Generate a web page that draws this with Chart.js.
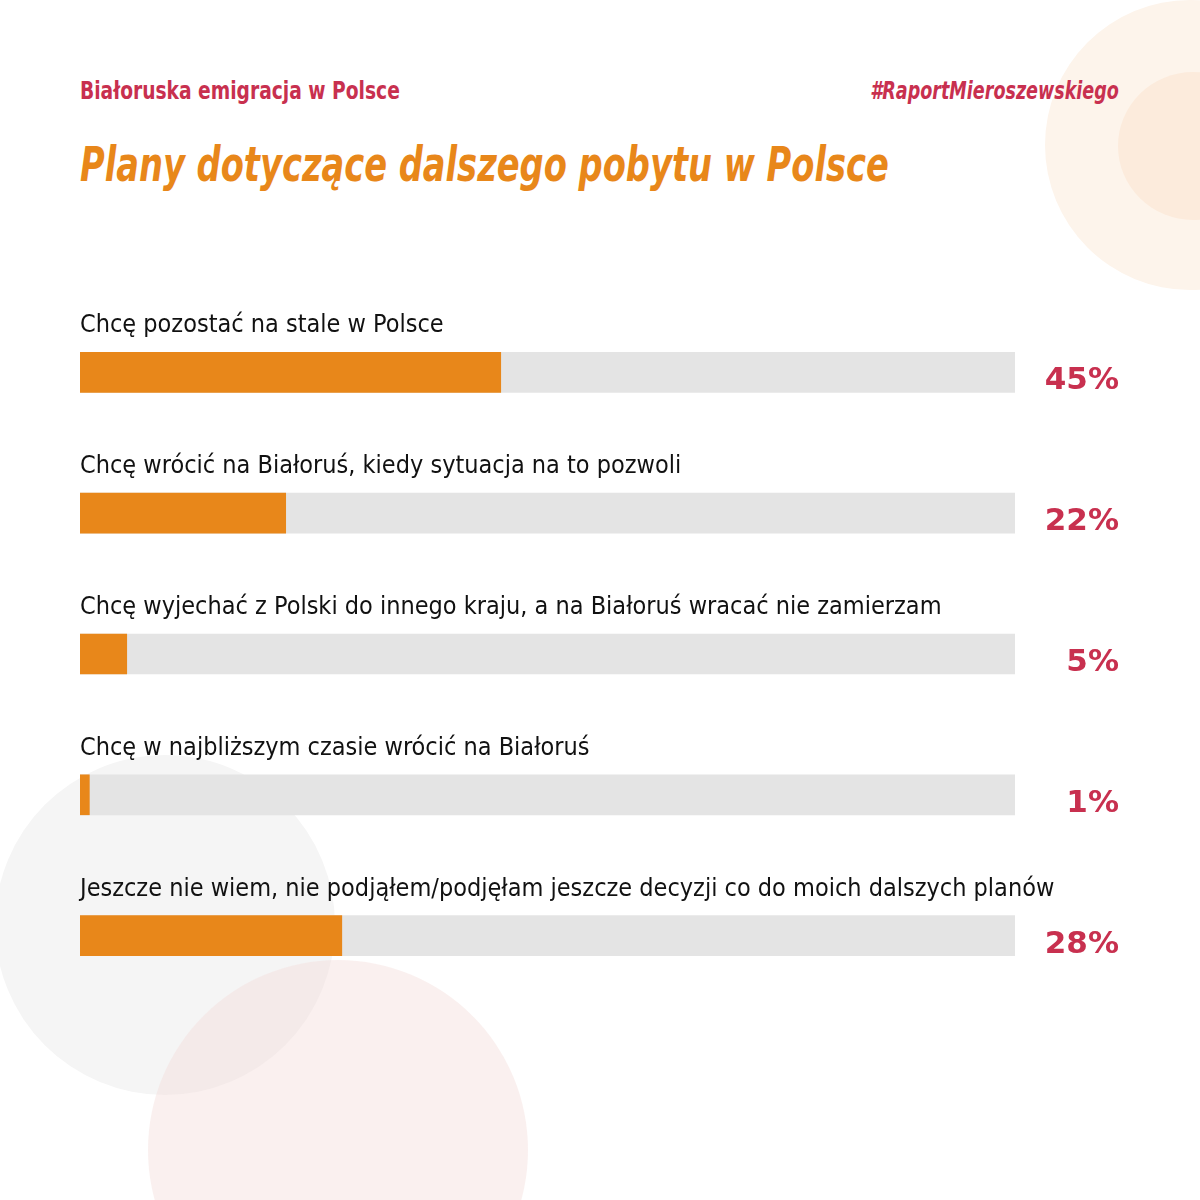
<!DOCTYPE html>
<html><head><meta charset="utf-8">
<script src="https://cdn.jsdelivr.net/npm/chart.js@4"></script>
<style>
body{margin:0;background:#fff;}
#wrap{position:relative;width:1200px;height:1200px;overflow:hidden;font-family:"Liberation Sans Narrow","DejaVu Sans Condensed",sans-serif;}
.c{position:absolute;border-radius:50%;}
.t{position:absolute;white-space:nowrap;}
canvas{position:absolute;left:0;top:0;}
</style></head><body>
<div id="wrap">
  <div class="c" style="left:1045px;top:0px;width:290px;height:290px;background:#fdf4eb"></div>
  <div class="c" style="left:1118px;top:72px;width:150px;height:148px;background:#fcebdc"></div>
  <div class="c" style="left:-5px;top:755px;width:340px;height:340px;background:#f5f5f5"></div>
  <div class="c" style="left:148px;top:960px;width:380px;height:380px;background:rgba(244,222,220,0.45)"></div>
  <div class="t" style="left:80px;top:76px;font-size:25px;font-weight:bold;color:#c8304f;transform:scaleX(0.83);transform-origin:left">Białoruska emigracja w Polsce</div>
  <div class="t" style="right:81px;top:76px;font-size:25px;font-weight:bold;font-style:italic;color:#c8304f;transform:scaleX(0.78);transform-origin:right">#RaportMieroszewskiego</div>
  <div class="t" style="left:80px;top:136px;font-size:48px;font-weight:bold;font-style:italic;color:#e8871a;transform:scaleX(0.78);transform-origin:left">Plany dotyczące dalszego pobytu w Polsce</div>
  <canvas id="chart" width="1200" height="1200"></canvas>
</div>
<script>
const categories = [
  "Chcę pozostać na stale w Polsce",
  "Chcę wrócić na Białoruś, kiedy sytuacja na to pozwoli",
  "Chcę wyjechać z Polski do innego kraju, a na Białoruś wracać nie zamierzam",
  "Chcę w najbliższym czasie wrócić na Białoruś",
  "Jeszcze nie wiem, nie podjąłem/podjęłam jeszcze decyzji co do moich dalszych planów"
];
const values = [45, 22, 5, 1, 28];
const track = [100, 100, 100, 100, 100];

const labelsPlugin = {
  id: 'labels',
  afterDatasetsDraw(chart) {
    const ctx = chart.ctx;
    const meta = chart.getDatasetMeta(0);
    ctx.save();
    meta.data.forEach((bar, i) => {
      ctx.fillStyle = '#111';
      ctx.font = '25px "Liberation Sans Narrow","DejaVu Sans Condensed",sans-serif';
      ctx.textAlign = 'left';
      ctx.textBaseline = 'alphabetic';
      ctx.fillText(categories[i], chart.chartArea.left, bar.y - 40);
      ctx.fillStyle = '#c8304f';
      ctx.font = 'bold 31px "DejaVu Sans",sans-serif';
      ctx.textAlign = 'right';
      ctx.textBaseline = 'middle';
      ctx.fillText(values[i] + '%', 1119, bar.y + 9);
    });
    ctx.restore();
  }
};

new Chart(document.getElementById('chart'), {
  type: 'bar',
  data: {
    labels: categories,
    datasets: [
      { data: values, backgroundColor: '#e8871a', order: 0 },
      { data: track, backgroundColor: '#e4e4e4', order: 1 }
    ]
  },
  options: {
    indexAxis: 'y',
    responsive: false,
    animation: false,
    layout: { padding: { left: 80, right: 185, top: 302, bottom: 194 } },
    datasets: { bar: { grouped: false, barThickness: 40 } },
    plugins: { legend: { display: false }, tooltip: { enabled: false } },
    scales: {
      x: { display: false, min: 0, max: 100 },
      y: { display: false }
    }
  },
  plugins: [labelsPlugin]
});
</script>
</body></html>
